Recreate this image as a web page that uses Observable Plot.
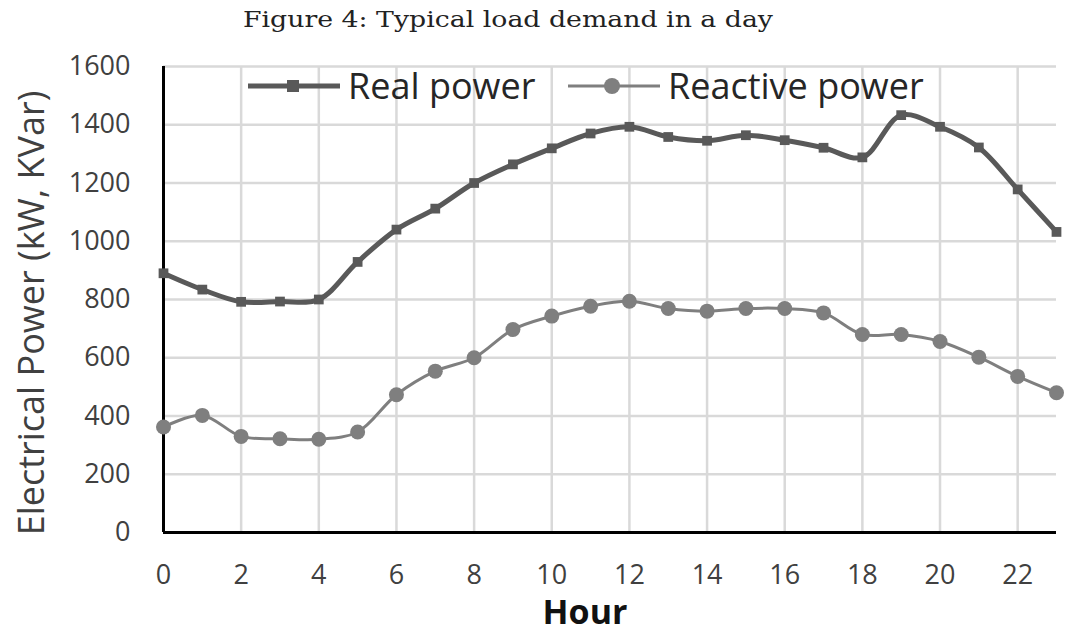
<!DOCTYPE html>
<html>
<head>
<meta charset="utf-8">
<script src="https://cdn.jsdelivr.net/npm/d3@7"></script>
<script src="https://cdn.jsdelivr.net/npm/@observablehq/plot@0.6"></script>
<style>
  html, body { margin: 0; padding: 0; background: #fff; }
  #wrap { position: relative; width: 1067px; height: 633px; overflow: hidden; }
  #title { position: absolute; left: 0; top: 0; width: 1067px; height: 44px; }
  #title span { position: absolute; left: 508px; top: 6px; font-family: "DejaVu Serif", serif; font-size: 23px; line-height: 1.2; color: #222; white-space: nowrap; transform-origin: center; }
  #chart { position: absolute; left: 0; top: 44px; }
  .lab { position: absolute; font-family: "Open Sans", sans-serif; white-space: nowrap; line-height: 1; }
  #ylab { left: 31px; top: 313px; transform: translate(-50%, -50%) rotate(-90deg); font-size: 36px; color: #404040; }
  #xlab { left: 585px; top: 611px; transform: translate(-50%, -50%); font-size: 34px; font-weight: bold; color: #111; }
  .leg { position: absolute; top: 62px; height: 48px; display: flex; align-items: center; font-family: "Open Sans", sans-serif; font-size: 36px; line-height: 1; color: #262626; white-space: nowrap; }
  .leg svg { margin-right: 8px; }
</style>
</head>
<body>
<div id="wrap">
  <div id="title"><span id="tt">Figure 4: Typical load demand in a day</span></div>
  <div id="chart"></div>
  <div class="lab" id="ylab">Electrical Power (kW, KVar)</div>
  <div class="lab" id="xlab">Hour</div>
  <div class="leg" id="leg1" style="left:248px"></div>
  <div class="leg" id="leg2" style="left:568px"></div>
</div>
<script>
// ---- data ----
const hours = [0, 1, 2, 3, 4, 5, 6, 7, 8, 9, 10, 11, 12, 13, 14, 15, 16, 17, 18, 19, 20, 21, 22, 23];
const realPower = [890, 834, 792, 793, 800, 929, 1040, 1112, 1200, 1264, 1319, 1370, 1393, 1358, 1345, 1364, 1347, 1321, 1288, 1433, 1393, 1322, 1178, 1032];
const reactivePower = [362, 402, 330, 322, 320, 345, 473, 554, 600, 697, 743, 777, 794, 769, 760, 769, 769, 754, 680, 680, 656, 602, 536, 480];
const xTicks = [0, 2, 4, 6, 8, 10, 12, 14, 16, 18, 20, 22];
const yTicks = [0, 200, 400, 600, 800, 1000, 1200, 1400, 1600];
const seriesNames = ["Real power", "Reactive power"];
const titleText = "Figure 4: Typical load demand in a day";

const realColor = "#595959";
const reactColor = "#7f7f7f";

const data = hours.map((h, i) => ({hour: h, real: realPower[i], reactive: reactivePower[i]}));

const chart = Plot.plot({
  width: 1067,
  height: 589,
  marginTop: 22,
  marginBottom: 101,
  marginLeft: 163,
  marginRight: 11,
  x: {domain: [0, 23]},
  y: {domain: [0, 1600]},
  style: {fontFamily: "'Open Sans', sans-serif", background: "white", overflow: "visible"},
  marks: [
    Plot.gridX(xTicks, {stroke: "#d9d9d9", strokeOpacity: 1, strokeWidth: 2.5}),
    Plot.gridY(yTicks, {stroke: "#d9d9d9", strokeOpacity: 1, strokeWidth: 2.5}),
    Plot.axisX(xTicks, {tickSize: 0, tickPadding: 32, fontSize: 27, label: null, fill: "#404040", tickFormat: d => String(d)}),
    Plot.axisY(yTicks, {tickSize: 0, tickPadding: 33, fontSize: 27, label: null, fill: "#404040", tickFormat: d => String(d)}),
    Plot.ruleX([0], {stroke: "#000", strokeWidth: 3}),
    Plot.ruleY([0], {stroke: "#000", strokeWidth: 3}),
    Plot.line(data, {x: "hour", y: "reactive", curve: "catmull-rom", stroke: reactColor, strokeWidth: 3}),
    Plot.dot(data, {x: "hour", y: "reactive", r: 7.5, fill: reactColor, stroke: "none"}),
    Plot.line(data, {x: "hour", y: "real", curve: "catmull-rom", stroke: realColor, strokeWidth: 5}),
    Plot.dot(data, {x: "hour", y: "real", symbol: "square", r: 5.5, fill: realColor, stroke: "none"})
  ]
});
document.getElementById("chart").appendChild(chart);

// legend
function legendItem(el, name, color, lw, marker) {
  const ns = "http://www.w3.org/2000/svg";
  const svg = document.createElementNS(ns, "svg");
  svg.setAttribute("width", 92); svg.setAttribute("height", 20);
  const line = document.createElementNS(ns, "line");
  line.setAttribute("x1", 0); line.setAttribute("x2", 92); line.setAttribute("y1", 10); line.setAttribute("y2", 10);
  line.setAttribute("stroke", color); line.setAttribute("stroke-width", lw);
  svg.appendChild(line);
  if (marker === "square") {
    const r = document.createElementNS(ns, "rect");
    r.setAttribute("x", 39); r.setAttribute("y", 4); r.setAttribute("width", 12); r.setAttribute("height", 12); r.setAttribute("fill", color);
    svg.appendChild(r);
  } else {
    const c = document.createElementNS(ns, "circle");
    c.setAttribute("cx", 44); c.setAttribute("cy", 10); c.setAttribute("r", 8); c.setAttribute("fill", color);
    svg.appendChild(c);
  }
  el.appendChild(svg);
  const s = document.createElement("span"); s.textContent = name; el.appendChild(s);
}
legendItem(document.getElementById("leg1"), seriesNames[0], realColor, 5, "square");
legendItem(document.getElementById("leg2"), seriesNames[1], reactColor, 3, "circle");

// title width fit
const tt = document.getElementById("tt");
tt.textContent = titleText;
const w = tt.getBoundingClientRect().width;
tt.style.transform = `translateX(-50%) scaleX(${530 / w})`;
</script>
</body>
</html>
